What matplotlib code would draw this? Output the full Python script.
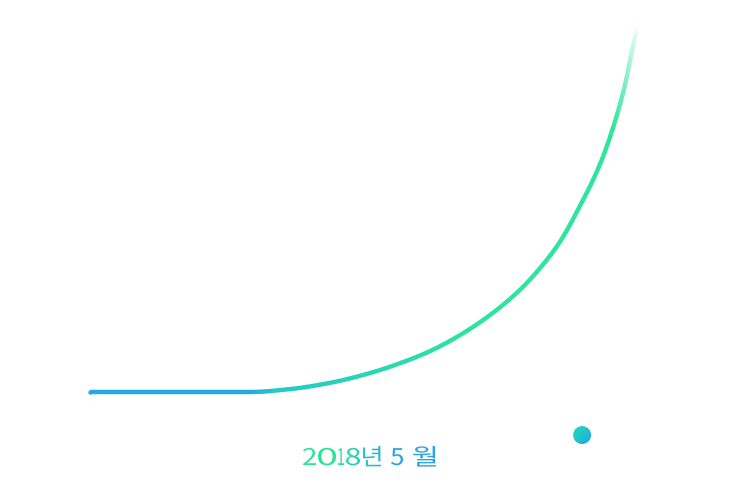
import numpy as np
import matplotlib.pyplot as plt
from matplotlib.colors import to_rgb
from matplotlib.font_manager import FontProperties
from matplotlib.patches import Circle, PathPatch, Polygon
from matplotlib.path import Path
from matplotlib.textpath import TextPath
from matplotlib.transforms import Affine2D


# growth curve (progress in %, value in %)
progress = [0, 29.4, 36.7, 44.0, 51.4, 56.9, 62.4, 67.9, 73.4, 78.9,
            82.6, 86.2, 89.9, 93.6, 96.3, 98.2, 99.4, 100.4]
value = [0, 0, 0.8, 2.5, 5.2, 7.9, 11.2, 15.6, 21.1, 28.0,
         34.0, 41.1, 51.0, 62.5, 74.0, 84.4, 93.2, 100]

# current point marker
marker_x = [90.3]
marker_y = [-11.8]

label = "2018년 5월"
# ink extent of every glyph of the label (left, right in pixels)
label_glyphs = [("2", 303, 316), ("0", 318, 336), ("1", 338, 344),
                ("8", 346, 360), ("년", 363, 381), ("5", 391, 403),
                ("월", 413, 436)]
label_baseline = 30

BLUE = np.array(to_rgb("#22a8e8"))
TEAL = np.array(to_rgb("#25c8ca"))
GREEN = np.array(to_rgb("#2de69c"))


def ramp_color(x):
    # colour along the curve, x in data units (array)
    x = np.asarray(x, float)[..., None]
    t1 = np.clip((x - 29) / 5, 0, 1)
    t2 = np.clip((x - 34) / 36, 0, 1)
    c = BLUE * (1 - t1) + TEAL * t1
    return c * (1 - t2) + GREEN * t2


def ramp_alpha(y):
    # fade out towards the top end of the curve
    y = np.asarray(y, float)
    return np.clip((100 - y) / 28, 0, 1) ** 0.8


def smooth(xs, ys, n=40):
    # monotone cubic (Fritsch-Carlson) only for drawing a smooth stroke
    xs = np.asarray(xs, float)
    ys = np.asarray(ys, float)
    h = np.diff(xs)
    d = np.diff(ys) / h
    m = np.zeros_like(xs)
    m[0], m[-1] = d[0], d[-1]
    for k in range(1, len(xs) - 1):
        if d[k - 1] * d[k] <= 0:
            m[k] = 0
        else:
            w1 = 2 * h[k] + h[k - 1]
            w2 = h[k] + 2 * h[k - 1]
            m[k] = (w1 + w2) / (w1 / d[k - 1] + w2 / d[k])
    px, py = [], []
    for k in range(len(xs) - 1):
        t = np.linspace(0, 1, n, endpoint=False)
        h00 = 2 * t**3 - 3 * t**2 + 1
        h10 = t**3 - 2 * t**2 + t
        h01 = -2 * t**3 + 3 * t**2
        h11 = t**3 - t**2
        px.extend(xs[k] + t * h[k])
        py.extend(h00 * ys[k] + h10 * h[k] * m[k] + h01 * ys[k + 1] + h11 * h[k] * m[k + 1])
    px.append(xs[-1])
    py.append(ys[-1])
    return np.array(px), np.array(py)


fig = plt.figure(figsize=(7.53, 4.95), dpi=100)
ax = fig.add_axes([0, 0, 1, 1])
ax.set_xlim(-16.51, 121.65)
ax.set_ylim(-28.22, 107.40)
ax.axis("off")

# overlay in pixel units, used for every gradient fill
ov = fig.add_axes([0, 0, 1, 1])
ov.set_xlim(0, 753)
ov.set_ylim(0, 495)
ov.axis("off")

#########################################################
# curve: stroke outline as a polygon, filled by a 2d colour ramp
sx, sy = smooth(progress, value)
pix = ax.transData.transform(np.column_stack([sx, sy]))
tang = np.gradient(pix, axis=0)
tang /= np.linalg.norm(tang, axis=1)[:, None]
norm = np.column_stack([-tang[:, 1], tang[:, 0]])
half = 2.2
outline = np.vstack([pix + norm * half, (pix - norm * half)[::-1]])
stroke = Polygon(outline, closed=True, fc="none", ec="none")
ov.add_patch(stroke)

gx = np.arange(753) + 0.5
gy = np.arange(495) + 0.5
inv = ax.transData.inverted()
dx = inv.transform(np.column_stack([gx, np.zeros_like(gx)]))[:, 0]
dy = inv.transform(np.column_stack([np.zeros_like(gy), gy]))[:, 1]
rgba = np.zeros((495, 753, 4))
rgba[..., :3] = ramp_color(dx)[None, :, :]
rgba[..., 3] = ramp_alpha(dy)[:, None]
im0 = ov.imshow(rgba, extent=[0, 753, 0, 495], origin="lower",
                interpolation="nearest", aspect="auto")
im0.set_clip_path(stroke)
# round start cap
ax.plot(progress[:1], value[:1], "o", ms=3.1, color=BLUE, mec="none")

#########################################################
# gradient filled marker
cx, cy = ax.transData.transform((marker_x[0], marker_y[0]))
r = 9
g = np.linspace(0, 1, 64)
u, v = np.meshgrid(g, g)
t = (u + (1 - v)) / 2
dot_teal = np.array(to_rgb("#20dfae"))
dot_blue = np.array(to_rgb("#22a6ea"))
img = dot_teal * (1 - t[..., None]) + dot_blue * t[..., None]
im = ov.imshow(img, extent=[cx - r, cx + r, cy - r, cy + r], origin="lower",
               interpolation="bilinear", aspect="auto")
circ = Circle((cx, cy), r, fc="none", ec="none")
ov.add_patch(circ)
im.set_clip_path(circ)

#########################################################
# label, one glyph at a time, filled with a green -> blue ramp
fp = FontProperties(family="Noto Sans CJK KR", weight="light")
verts, codes = [], []
for ch, left, right in label_glyphs:
    tp = TextPath((0, 0), ch, size=23, prop=fp)
    bb = tp.get_extents()
    sxg = (right - left) / bb.width
    tr = Affine2D().translate(-bb.x0, 0).scale(sxg, 1).translate(left, label_baseline)
    gp = tr.transform_path(tp)
    verts.append(gp.vertices)
    codes.append(gp.codes)
path = Path(np.concatenate(verts), np.concatenate(codes))
pb = path.get_extents()
patch = PathPatch(path, fc="none", ec="none")
ov.add_patch(patch)

lab_green = np.array(to_rgb("#2de39a"))
lab_blue = np.array(to_rgb("#25a4e8"))
s = np.clip((np.linspace(0, 1, 200) - 0.25) / 0.45, 0, 1)
ramp = lab_green * (1 - s[:, None]) + lab_blue * s[:, None]
ramp = np.repeat(ramp[None, :, :], 4, axis=0)
im2 = ov.imshow(ramp, extent=[pb.x0 - 1, pb.x1 + 1, pb.y0 - 1, pb.y1 + 1],
                origin="lower", interpolation="bilinear", aspect="auto")
im2.set_clip_path(patch)

ov.set_xlim(0, 753)
ov.set_ylim(0, 495)

plt.savefig("out.png", dpi=100)
